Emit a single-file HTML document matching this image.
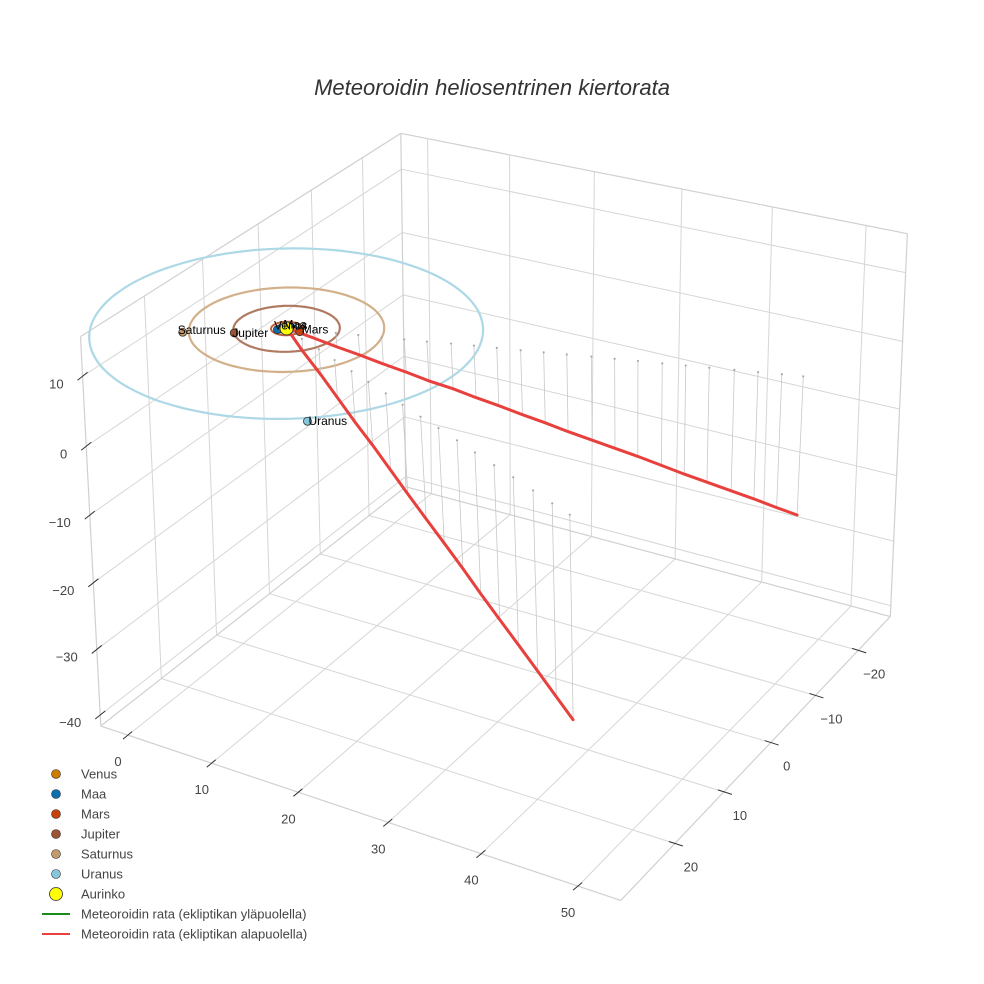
<!DOCTYPE html>
<html><head><meta charset="utf-8"><style>
html,body{margin:0;padding:0;background:#fff;}
svg{display:block;font-family:"Liberation Sans",sans-serif;}
</style></head><body>
<svg id="chart" width="984" height="984" viewBox="0 0 984 984" xmlns="http://www.w3.org/2000/svg">
<rect x="0" y="0" width="984" height="984" fill="#fff"/>
<text x="492" y="95" text-anchor="middle" font-size="22" font-style="italic" fill="#333">Meteoroidin heliosentrinen kiertorata</text>
<g id="grid"></g>
<g id="axes"></g>
<g id="marks"></g>
<g id="legend"></g>
</svg>
<script>
// ---- data ----
const xTicks=[0,10,20,30,40,50];
const yTicks=[-20,-10,0,10,20];
const zTicks=[-40,-30,-20,-10,0,10];
const planetNames=["Venus","Maa","Mars","Jupiter","Saturnus","Uranus"];
const planetColors=["#cc7a00","#0b6fb0","#c8420e","#9c5434","#c39a6b","#86c6dc"];
const orbitColors=["#d9913a","#2a7fc0","#c0603a","#b07a62","#d2b08a","#add8e6"];
const orbitRadii=[0.72,1.0,1.52,5.2,9.54,19.2];
const planetX=[-0.5,-0.6,1.5,-3.7,-8.0,13.0];
const planetY=[0.4,0.7,-0.1,3.6,6.2,15.0];
const planetZ=[0,0,0,0,0,0];
const sunPos=[0,0,0];
const rightX=[0.5,2.5,4.6,6.7,8.9,11.0,13.1,15.3,17.4,19.5,21.7,23.8,25.9,28.1,30.2,32.3,34.5,36.6,38.7,40.9,43.0,45.1,47.0];
const rightY=[-0.2,-1.0,-1.8,-2.6,-3.4,-4.2,-5.0,-5.9,-6.7,-7.5,-8.3,-9.1,-9.9,-10.8,-11.6,-12.4,-13.2,-14.0,-14.8,-15.7,-16.5,-17.3,-18.0];
const rightZ=[-0.2,-1.1,-2.1,-3.0,-4.0,-4.9,-5.9,-6.8,-7.8,-8.7,-9.7,-10.6,-11.6,-12.6,-13.5,-14.4,-15.4,-16.4,-17.3,-18.3,-19.2,-20.2,-21.0];
const leftX=[0.3,2.6,5.3,7.9,10.6,13.2,15.9,18.5,21.2,23.8,26.5,29.1,31.8,34.4,37.1,39.7,42.0];
const leftY=[0.1,1.1,2.1,3.2,4.3,5.3,6.4,7.5,8.6,9.6,10.7,11.8,12.9,13.9,15.0,16.1,17.0];
const leftZ=[-0.2,-1.9,-3.8,-5.6,-7.6,-9.4,-11.4,-13.2,-15.1,-17.0,-18.9,-20.8,-22.7,-24.6,-26.5,-28.3,-30.0];
const legendLabels=["Venus","Maa","Mars","Jupiter","Saturnus","Uranus","Aurinko","Meteoroidin rata (ekliptikan yläpuolella)","Meteoroidin rata (ekliptikan alapuolella)"];

// ---- camera calibration (axis geometry) ----
const xmin=-3.33,xmax=54.3,ymin=-27.8,ymax=30.5,zmin=-41.7,zmax=15.6;
const calibBox=[
 [xmin,ymax,zmin,99.7,726.5,1],[xmax,ymax,zmin,618.5,895,1],[xmax,ymin,zmin,896,612,1],[xmin,ymin,zmin,405,480,1],
 [xmin,ymax,zmax,82,334,1],[xmin,ymin,zmax,400,138,2],[xmax,ymin,zmax,911,231,1],
 [0,ymax,zmin,129.7,736.7,1],[10,ymax,zmin,216,765,1],[20,ymax,zmin,304,795,1],[30,ymax,zmin,393,825,1],[40,ymax,zmin,486,854,1],[50,ymax,zmin,580,883,1],
 [xmax,20,zmin,668,847,1],[xmax,10,zmin,718,795,1],[xmax,0,zmin,767,746,1],[xmax,-10,zmin,813,698,1],[xmax,-20,zmin,858,650,1],
 [xmin,ymax,10,82,373,1],[xmin,ymax,0,85,443,1],[xmin,ymax,-10,88,515,1],[xmin,ymax,-20,92,583,1],[xmin,ymax,-30,95,650,1],[xmin,ymax,-40,98,715,1]
];
const calibScene=calibBox.concat([
 [0,0,0,283,323,8],
 [13.6,13.6,0,279,426,6],[-13.6,-13.6,0,278,236,6],[-13.6,13.6,0,80,336,6],[13.6,-13.6,0,476,330,6],
 [47,-18,0,813,378,4],[47,-18,-21,808,515,4],[42,17,0,585,510,4],[42,17,-30,580,720,4]
]);
function solveCam(calib){
  const A=[],b=[];
  calib.forEach(c=>{const[X,Y,Z,u,v,wt]=c;
    for(let r=0;r<wt;r++){
    A.push([X,Y,Z,1,0,0,0,0,-u*X,-u*Y,-u*Z]);b.push(u);
    A.push([0,0,0,0,X,Y,Z,1,-v*X,-v*Y,-v*Z]);b.push(v);}});
  const n=11,M=[];
  for(let i=0;i<n;i++){M.push([]);for(let j=0;j<=n;j++){let s=0;for(let k=0;k<A.length;k++)s+=A[k][i]*(j<n?A[k][j]:b[k]);M[i].push(s);}}
  for(let i=0;i<n;i++){let p=i;for(let r=i+1;r<n;r++)if(Math.abs(M[r][i])>Math.abs(M[p][i]))p=r;[M[i],M[p]]=[M[p],M[i]];
    for(let r=0;r<n;r++){if(r===i)continue;const f=M[r][i]/M[i][i];for(let j=i;j<=n;j++)M[r][j]-=f*M[i][j];}}
  return M.map((row,i)=>row[n]/row[i]);
}
const CB=solveCam(calibBox), CS=solveCam(calibScene);
function proj(C,x,y,z){const w=C[8]*x+C[9]*y+C[10]*z+1;return[(C[0]*x+C[1]*y+C[2]*z+C[3])/w,(C[4]*x+C[5]*y+C[6]*z+C[7])/w];}
function PB(x,y,z){return proj(CB,x,y,z);}
function P(x,y,z){return proj(CS,x,y,z);}

const NS="http://www.w3.org/2000/svg";
function mk(tag,parent,attrs){const e=document.createElementNS(NS,tag);for(const k in attrs)e.setAttribute(k,attrs[k]);parent.appendChild(e);return e;}
const grid=document.getElementById('grid'),axes=document.getElementById('axes'),marks=document.getElementById('marks'),legend=document.getElementById('legend');
function seg(parent,a,b,stroke,w,name){const p=PB(...a),q=PB(...b);const l=mk('line',parent,{x1:p[0],y1:p[1],x2:q[0],y2:q[1],stroke:stroke,'stroke-width':w});
  
  return l;}
const GC="#d6d6d6";
xTicks.forEach(t=>seg(grid,[t,ymin,zmin],[t,ymax,zmin],GC,1,'floor-gridline-x'));
yTicks.forEach(t=>seg(grid,[xmin,t,zmin],[xmax,t,zmin],GC,1,'floor-gridline-y'));
yTicks.forEach(t=>seg(grid,[xmin,t,zmin],[xmin,t,zmax],GC,1,'left-wall-gridline-y'));
zTicks.forEach(t=>seg(grid,[xmin,ymin,t],[xmin,ymax,t],GC,1,'left-wall-gridline-z'));
xTicks.forEach(t=>seg(grid,[t,ymin,zmin],[t,ymin,zmax],GC,1,'back-wall-gridline-x'));
zTicks.forEach(t=>seg(grid,[xmin,ymin,t],[xmax,ymin,t],GC,1,'back-wall-gridline-z'));
[[[xmin,ymax,zmin],[xmax,ymax,zmin]],[[xmax,ymax,zmin],[xmax,ymin,zmin]],[[xmin,ymax,zmin],[xmin,ymax,zmax]],
 [[xmax,ymin,zmin],[xmax,ymin,zmax]],[[xmin,ymin,zmin],[xmin,ymin,zmax]],[[xmin,ymax,zmax],[xmin,ymin,zmax]],[[xmin,ymin,zmax],[xmax,ymin,zmax]],
 [[xmin,ymin,zmin],[xmax,ymin,zmin]],[[xmin,ymin,zmin],[xmin,ymax,zmin]]].forEach(e=>seg(grid,e[0],e[1],"#d0d0d0",1.2,'box-edge'));
function tickLabel(txt,x,y,anchor,name){const t=mk('text',axes,{x:x,y:y,'text-anchor':anchor,'font-size':13,fill:'#444'});t.textContent=txt;
  
  }
function fmt(v){return v<0?'\u2212'+(-v):''+v;}
xTicks.forEach(t=>{const p=PB(t,ymax,zmin);const l=mk('line',axes,{x1:p[0]+4,y1:p[1]-3.5,x2:p[0]-5,y2:p[1]+4,stroke:'#333','stroke-width':1});
  
  
  tickLabel(fmt(t),p[0]-10,p[1]+31,'middle','x-tick-label');});
yTicks.forEach(t=>{const p=PB(xmax,t,zmin);const l=mk('line',axes,{x1:p[0]-6,y1:p[1]-2,x2:p[0]+8,y2:p[1]+2.5,stroke:'#333','stroke-width':1});
  
  
  tickLabel(fmt(t),p[0]+16,p[1]+28,'middle','y-tick-label');});
zTicks.forEach(t=>{const p=PB(xmin,ymax,t);const l=mk('line',axes,{x1:p[0]-5,y1:p[1]+4,x2:p[0]+5,y2:p[1]-4,stroke:'#333','stroke-width':1});
  
  
  tickLabel(fmt(t),p[0]-19,p[1]+12,'end','z-tick-label');});

orbitRadii.forEach((r,i)=>{let d='';for(let k=0;k<=120;k++){const a=k/120*2*Math.PI;const p=P(r*Math.cos(a),r*Math.sin(a),0);d+=(k?'L':'M')+p[0].toFixed(1)+','+p[1].toFixed(1);}
  const o=mk('path',marks,{d:d,fill:'none',stroke:orbitColors[i],'stroke-width':i>=3?2.2:2});
  
  });
function drops(X,Y,Z,nm){for(let i=1;i<X.length;i++){const a=P(X[i],Y[i],Z[i]),b=P(X[i],Y[i],0);
  const l=mk('line',marks,{x1:a[0],y1:a[1],x2:b[0],y2:b[1],stroke:'#c8c8c8','stroke-width':0.8});
  
  
  const c=mk('circle',marks,{cx:b[0],cy:b[1],r:1.1,fill:'#aaa'});
  
  }}
drops(rightX,rightY,rightZ,'right-branch');drops(leftX,leftY,leftZ,'left-branch');
function path3(X,Y,Z,nm){let d='';for(let i=0;i<X.length;i++){const p=P(X[i],Y[i],Z[i]);d+=(i?'L':'M')+p[0].toFixed(1)+','+p[1].toFixed(1);}
  const e=mk('path',marks,{d:d,fill:'none',stroke:'#e8403c','stroke-width':3,'stroke-linecap':'round'});
  
  }
path3(rightX,rightY,rightZ,'meteoroid-path-right');path3(leftX,leftY,leftZ,'meteoroid-path-left');
planetNames.forEach((n,i)=>{const p=P(planetX[i],planetY[i],planetZ[i]);
  const c=mk('circle',marks,{cx:p[0],cy:p[1],r:4,fill:planetColors[i],stroke:'#333','stroke-width':0.8});
  
  });
const sp=P(...sunPos);
const sun=mk('circle',marks,{cx:sp[0],cy:sp[1],r:6.5,fill:'#ffff00',stroke:'#333','stroke-width':0.8});


const labOff=[[-6,1],[6,-1],[2,2],[-2,4],[-5,2],[1,4]];
planetNames.forEach((n,i)=>{const p=P(planetX[i],planetY[i],planetZ[i]);
  const t=mk('text',marks,{x:p[0]+labOff[i][0],y:p[1]+labOff[i][1],'font-size':12,fill:'#000'});t.textContent=n;
  
  });
legendLabels.forEach((lab,i)=>{const y=774+i*20;
  if(i<6){const c=mk('circle',legend,{cx:56,cy:y,r:4.5,fill:planetColors[i],stroke:'#333','stroke-width':0.6});
    
    }
  else if(i===6){const c=mk('circle',legend,{cx:56,cy:y,r:6.5,fill:'#ffff00',stroke:'#333','stroke-width':0.8});
    
    }
  else{const l=mk('line',legend,{x1:42,y1:y,x2:70,y2:y,stroke:i===7?'#1a8a1a':'#e8403c','stroke-width':2});
    
    }
  const t=mk('text',legend,{x:81,y:y+4.5,'font-size':13,fill:'#444'});t.textContent=lab;
  
  });
</script>
</body></html>
